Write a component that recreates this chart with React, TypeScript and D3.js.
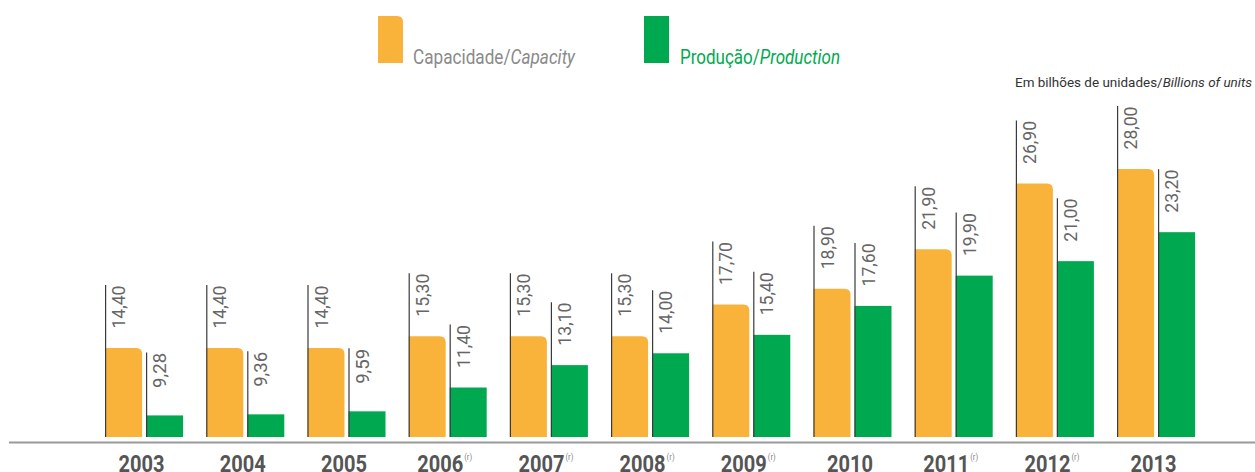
import React from "react";
import * as d3 from "d3";

const years = ["2003","2004","2005","2006","2007","2008","2009","2010","2011","2012","2013"];
const revised = [false,false,false,true,true,true,true,false,true,true,false];
const capacity = [14.40,14.40,14.40,15.30,15.30,15.30,17.70,18.90,21.90,26.90,28.00];
const production = [9.28,9.36,9.59,11.40,13.10,14.00,15.40,17.60,19.90,21.00,23.20];

const W = 1255, H = 472;
const FONT = "Roboto,'Liberation Sans','DejaVu Sans',sans-serif";
const ORANGE = "#F9B33B";
const GREEN = "#00A94F";

const fmt = (v: number) => v.toFixed(2).replace(".", ",");

function barPath(x: number, y: number, w: number, h: number, r: number) {
  return `M${x},${y + h}V${y}H${x + w - r}Q${x + w},${y} ${x + w},${y + r}V${y + h}Z`;
}

export default function App() {
  const base = 437;
  const x = d3.scaleBand<string>().domain(years).range([94, 94 + 11 * 101.2]).paddingInner(0).paddingOuter(0);
  const y = d3.scaleLinear().domain([7.64, 28]).range([base, 169]);
  const bw = 37;

  const label = (lx: number, top: number, v: number, key: string) => {
    const lineTop = top - 63;
    const s = fmt(v);
    return (
      <g key={key}>
        <line x1={lx + 0.5} x2={lx + 0.5} y1={lineTop} y2={base} stroke="#3a3a3a" strokeWidth={1.2} />
        <text
          transform={`translate(${lx + 20},${lineTop + 0.5}) rotate(-90)`}
          textAnchor="end"
          fontFamily={FONT}
          fontSize={18}
          fill="#666"
          textLength={s.length === 5 ? 43 : 35}
          lengthAdjust="spacingAndGlyphs"
        >{s}</text>
      </g>
    );
  };

  return (
    <svg width={W} height={H} style={{ position: "absolute", left: 0, top: 0 }}>
      {/* legend */}
      <path d={barPath(378, 16, 25, 47, 6)} fill={ORANGE} />
      <text x={413} y={64} fontFamily={FONT} fontSize={21} fill="#8a8a8a" textLength={162} lengthAdjust="spacingAndGlyphs">
        Capacidade/<tspan fontStyle="italic">Capacity</tspan>
      </text>
      <rect x={644} y={16} width={25} height={47} fill={GREEN} />
      <text x={680} y={64} fontFamily={FONT} fontSize={21} fill={GREEN} textLength={160} lengthAdjust="spacingAndGlyphs">
        Produção/<tspan fontStyle="italic">Production</tspan>
      </text>
      <text x={1015} y={87} fontFamily={FONT} fontSize={13.5} fill="#333" textLength={237} lengthAdjust="spacingAndGlyphs">
        Em bilhões de unidades/<tspan fontStyle="italic">Billions  of units</tspan>
      </text>

      {years.map((yr, i) => {
        const c = (x(yr) as number) + x.bandwidth() / 2;
        const ox = c - 39.5;
        const gx = c + 1.5;
        const oy = y(capacity[i]);
        const gy = y(production[i]);
        const tc = revised[i] ? c - 8 : c - 3;
        return (
          <g key={yr}>
            <path d={barPath(ox, oy, bw, base - oy, 6)} fill={ORANGE} />
            <rect x={gx} y={gy} width={bw} height={base - gy} fill={GREEN} />
            {label(ox, oy, capacity[i], "c")}
            {label(gx, gy, production[i], "p")}
            <text x={tc} y={472} textAnchor="middle" fontFamily={FONT} fontWeight="bold" fontSize={23} fill="#555" textLength={46} lengthAdjust="spacingAndGlyphs">{yr}</text>
            {revised[i] && (
              <text x={tc + 24} y={460} fontFamily={FONT} fontSize={9} fill="#888" textLength={8} lengthAdjust="spacingAndGlyphs">(r)</text>
            )}
          </g>
        );
      })}
      <line x1={9} x2={1255} y1={442.5} y2={442.5} stroke="#9a9a9a" strokeWidth={2} />
    </svg>
  );
}
